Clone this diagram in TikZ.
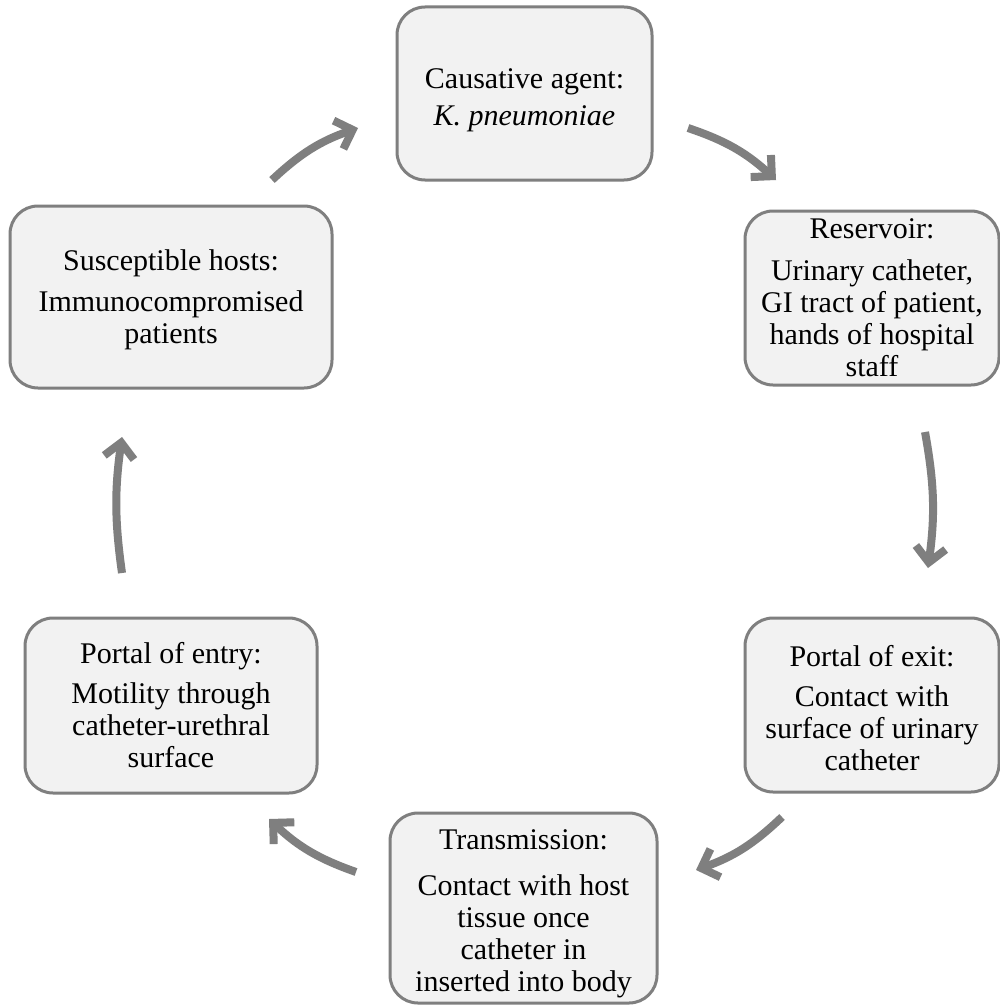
\documentclass[tikz,border=0pt]{standalone}
\usepackage{fontspec}
\setmainfont{LiberationSerif}[Extension=.ttf, UprightFont=*-Regular, ItalicFont=*-Italic, BoldFont=*-Bold]
\usetikzlibrary{arrows.meta}
\definecolor{boxfill}{HTML}{F2F2F2}
\definecolor{boxline}{HTML}{7F7F7F}
\definecolor{arrowgray}{HTML}{7F7F7F}
\tikzset{
  stagebox/.style={draw=boxline, line width=3pt, fill=boxfill, rounded corners=28pt,
    inner sep=0pt},
  stagetext/.style={align=center, inner sep=0pt, font=\fontsize{30}{32}\selectfont},
  cyclearrow/.style={draw=arrowgray, line width=8pt,
    -{Straight Barb[length=15pt,width=30pt]}, bend left=12}
}
\begin{document}
\begin{tikzpicture}[x=1pt,y=-1pt]
\useasboundingbox (0,0) rectangle (1000,1006);
\fill[white] (0,0) rectangle (1000,1006);

\node[stagebox, minimum width=255pt, minimum height=173pt] (agent) at (524.5,93.5) {};
\node[stagetext, yshift=-7pt] (agenttext) at (agent.center)
  {Causative agent:\\[5pt]\textit{K. pneumoniae}};
\node[stagebox, minimum width=254pt, minimum height=174pt] (reservoir) at (872,298) {};
\node[stagetext] (reservoirtext) at (reservoir.center)
  {Reservoir:\\[10pt]Urinary catheter,\\GI tract of patient,\\hands of hospital\\staff};
\node[stagebox, minimum width=254pt, minimum height=174pt] (exit) at (872,705) {};
\node[stagetext, yshift=-3pt] (exittext) at (exit.center)
  {Portal of exit:\\[8pt]Contact with\\surface of urinary\\catheter};
\node[stagebox, minimum width=267pt, minimum height=190pt] (transmission) at (523.5,908) {};
\node[stagetext, yshift=-6pt] (transmissiontext) at (transmission.center)
  {Transmission:\\[14pt]Contact with host\\tissue once\\catheter in\\inserted into body};
\node[stagebox, minimum width=292pt, minimum height=175pt] (entry) at (171,705.5) {};
\node[stagetext] (entrytext) at (entry.center)
  {Portal of entry:\\[8pt]Motility through\\catheter-urethral\\surface};
\node[stagebox, minimum width=322pt, minimum height=182pt] (hosts) at (171,297) {};
\node[stagetext, yshift=-3pt] (hoststext) at (hosts.center)
  {Susceptible hosts:\\[9pt]Immunocompromised\\patients};

\coordinate (a1s) at (272,180);
\coordinate (a1e) at (358,128);
\coordinate (a2s) at (688,128);
\coordinate (a2e) at (776,180);
\coordinate (a3s) at (925,432);
\coordinate (a3e) at (928,568);
\coordinate (a4s) at (782,817);
\coordinate (a4e) at (696,870);
\coordinate (a5s) at (356,872);
\coordinate (a5e) at (269,819);
\coordinate (a6s) at (122,573);
\coordinate (a6e) at (122,437);

\draw[cyclearrow] (a1s) to (a1e);
\draw[cyclearrow] (a2s) to (a2e);
\draw[cyclearrow, bend left=9] (a3s) to (a3e);
\draw[cyclearrow] (a4s) to (a4e);
\draw[cyclearrow] (a5s) to (a5e);
\draw[cyclearrow, bend left=8] (a6s) to (a6e);
\end{tikzpicture}
\end{document}
